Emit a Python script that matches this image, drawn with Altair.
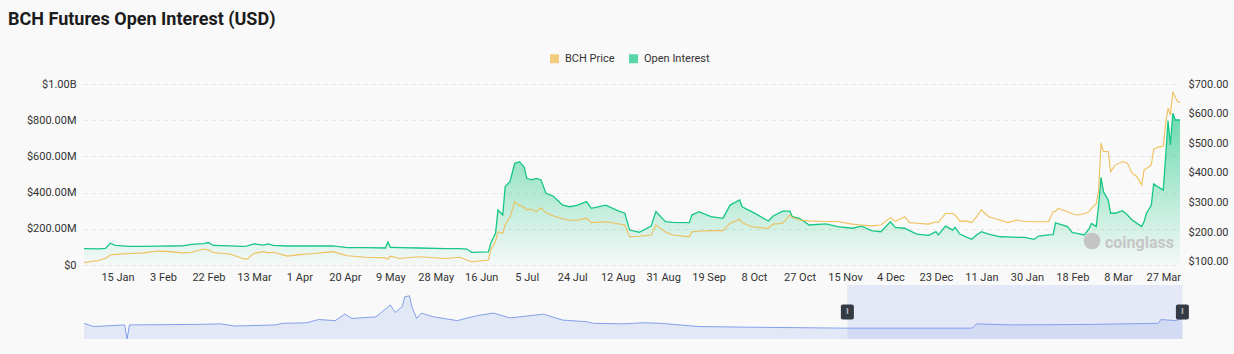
import altair as alt
import pandas as pd

# ---------------- data ----------------
dates = [
    "2023-01-01", "2023-01-07", "2023-01-10", "2023-01-12", "2023-01-14", "2023-01-20", "2023-01-26", "2023-02-01", "2023-02-06", "2023-02-11",
    "2023-02-15", "2023-02-20", "2023-02-22", "2023-02-24", "2023-03-03", "2023-03-08", "2023-03-10", "2023-03-13", "2023-03-17", "2023-03-19",
    "2023-03-21", "2023-03-27", "2023-04-01", "2023-04-06", "2023-04-15", "2023-04-21", "2023-04-29", "2023-05-07", "2023-05-08", "2023-05-09",
    "2023-05-13", "2023-05-21", "2023-06-01", "2023-06-07", "2023-06-10", "2023-06-12", "2023-06-19", "2023-06-20", "2023-06-22", "2023-06-23",
    "2023-06-25", "2023-06-26", "2023-06-28", "2023-06-30", "2023-07-02", "2023-07-04", "2023-07-05", "2023-07-07", "2023-07-09", "2023-07-11",
    "2023-07-13", "2023-07-16", "2023-07-20", "2023-07-23", "2023-07-26", "2023-07-30", "2023-08-01", "2023-08-07", "2023-08-12", "2023-08-15",
    "2023-08-17", "2023-08-21", "2023-08-26", "2023-08-28", "2023-09-01", "2023-09-04", "2023-09-11", "2023-09-12", "2023-09-15", "2023-09-20",
    "2023-09-25", "2023-09-28", "2023-10-02", "2023-10-03", "2023-10-07", "2023-10-14", "2023-10-16", "2023-10-20", "2023-10-23", "2023-10-24",
    "2023-10-27", "2023-10-31", "2023-11-07", "2023-11-12", "2023-11-18", "2023-11-22", "2023-11-26", "2023-11-30", "2023-12-04", "2023-12-06",
    "2023-12-10", "2023-12-12", "2023-12-15", "2023-12-20", "2023-12-23", "2023-12-24", "2023-12-27", "2023-12-30", "2023-12-31", "2024-01-02",
    "2024-01-05", "2024-01-07", "2024-01-09", "2024-01-11", "2024-01-14", "2024-01-19", "2024-01-22", "2024-01-26", "2024-01-29", "2024-02-02",
    "2024-02-04", "2024-02-08", "2024-02-10", "2024-02-11", "2024-02-12", "2024-02-16", "2024-02-18", "2024-02-20", "2024-02-23", "2024-02-25",
    "2024-02-26", "2024-02-28", "2024-02-29", "2024-03-01", "2024-03-02", "2024-03-04", "2024-03-05", "2024-03-07", "2024-03-10", "2024-03-12",
    "2024-03-14", "2024-03-16", "2024-03-18", "2024-03-19", "2024-03-20", "2024-03-22", "2024-03-23", "2024-03-25", "2024-03-27", "2024-03-28",
    "2024-03-29", "2024-03-30", "2024-03-31", "2024-04-01", "2024-04-02", "2024-04-03",
]

# Open interest, millions of USD
oi_musd = [
    90, 89, 92, 120, 108, 103, 103, 104, 105, 106,
    114, 118, 124, 108, 106, 103, 104, 117, 110, 117,
    108, 105, 106, 105, 106, 96, 96, 94, 127, 98,
    96, 94, 91, 90, 88, 70, 72, 120, 177, 304,
    276, 433, 460, 562, 571, 540, 479, 470, 478, 470,
    396, 381, 331, 322, 330, 350, 313, 331, 300, 286,
    193, 181, 215, 295, 239, 236, 234, 276, 295, 267,
    258, 331, 359, 322, 295, 243, 271, 298, 298, 267,
    258, 221, 227, 212, 203, 215, 190, 184, 239, 208,
    203, 190, 171, 164, 184, 166, 215, 193, 208, 171,
    153, 142, 166, 184, 170, 156, 155, 153, 153, 142,
    160, 166, 168, 234, 228, 212, 179, 175, 166, 200,
    230, 212, 331, 484, 405, 359, 286, 286, 300, 276,
    249, 230, 212, 240, 286, 330, 448, 430, 414, 598,
    797, 663, 838, 801, 801, 801,
]

# BCH price, USD
price_usd = [
    97, 104, 112, 123, 125, 128, 130, 136, 134, 130,
    132, 143, 140, 131, 126, 112, 108, 128, 134, 130,
    132, 119, 124, 127, 134, 120, 115, 113, 108, 119,
    111, 117, 111, 115, 106, 100, 106, 140, 170, 201,
    196, 224, 250, 303, 290, 283, 275, 278, 269, 282,
    265, 255, 245, 240, 240, 247, 232, 235, 228, 224,
    184, 186, 190, 224, 200, 190, 184, 201, 203, 205,
    205, 230, 243, 232, 218, 213, 227, 230, 258, 250,
    241, 238, 236, 236, 227, 224, 221, 224, 249, 236,
    252, 232, 230, 227, 235, 232, 263, 263, 258, 237,
    237, 232, 252, 275, 252, 240, 232, 241, 236, 235,
    235, 235, 269, 270, 280, 269, 262, 258, 262, 269,
    280, 295, 342, 500, 472, 472, 404, 427, 438, 433,
    399, 387, 359, 410, 415, 427, 480, 487, 490, 567,
    618, 595, 674, 655, 640, 638,
]

# navigator (overview strip) series, relative units 0-100
nav_dates = [
    "2023-01-01", "2023-01-05", "2023-01-18", "2023-01-19", "2023-01-20", "2023-02-17", "2023-02-27", "2023-03-05", "2023-03-22", "2023-03-25",
    "2023-04-04", "2023-04-09", "2023-04-16", "2023-04-20", "2023-04-23", "2023-05-03", "2023-05-09", "2023-05-11", "2023-05-14", "2023-05-15",
    "2023-05-17", "2023-05-18", "2023-05-20", "2023-05-22", "2023-05-27", "2023-06-06", "2023-06-14", "2023-06-21", "2023-06-28", "2023-07-12",
    "2023-07-20", "2023-07-30", "2023-08-02", "2023-08-14", "2023-08-23", "2023-08-30", "2023-09-15", "2023-10-02", "2023-11-16", "2024-01-07",
    "2024-01-09", "2024-01-24", "2024-02-26", "2024-03-25", "2024-03-26", "2024-04-01", "2024-04-04",
]
nav_values = [
    29, 23, 26, 0, 26, 27, 28, 24, 26, 29,
    30, 36, 34, 46, 38, 41, 63, 49, 60, 78,
    80, 60, 38, 48, 41, 34, 43, 48, 39, 46,
    35, 32, 29, 28, 30, 29, 23, 22, 20, 20,
    28, 26, 27, 29, 36, 34, 38,
]
nav_selection = ["2023-11-16", "2024-04-04"]

x_tick_dates = [
    "2023-01-15", "2023-02-03", "2023-02-22", "2023-03-13", "2023-04-01", "2023-04-20", "2023-05-09", "2023-05-28",
    "2023-06-16", "2023-07-05", "2023-07-24", "2023-08-12", "2023-08-31", "2023-09-19", "2023-10-08", "2023-10-27",
    "2023-11-15", "2023-12-04", "2023-12-23", "2024-01-11", "2024-01-30", "2024-02-18", "2024-03-08", "2024-03-27",
]
x_domain = ["2023-01-01", "2024-04-03"]
oi_ticks = [0, 200, 400, 600, 800, 1000]
price_ticks = [100, 200, 300, 400, 500, 600, 700]

series_names = ["BCH Price", "Open Interest"]
series_colors = ["#f0b94a", "#16c784"]
watermark_text = ["coinglass"]
title_text = "BCH Futures Open Interest (USD)"

# ---------------- helpers ----------------
FONT = "Roboto"
LABEL_COLOR = "#333333"
HANDLE_PATH = (
    "M-0.45,-0.75 L0.45,-0.75 Q0.65,-0.75 0.65,-0.55 L0.65,0.55 Q0.65,0.75 0.45,0.75 "
    "L-0.45,0.75 Q-0.65,0.75 -0.65,0.55 L-0.65,-0.55 Q-0.65,-0.75 -0.45,-0.75 Z"
)


def dt(s):
    y, m, d = (int(p) for p in s.split("-"))
    return alt.DateTime(year=y, month=m, date=d, utc=True)


main_df = pd.DataFrame({"date": dates, "oi": oi_musd, "price": price_usd})
nav_df = pd.DataFrame({"date": nav_dates, "v": nav_values})
sel_df = pd.DataFrame({"start": [nav_selection[0]], "end": [nav_selection[1]], "lo": [0], "hi": [100]})
handle_df = pd.DataFrame({"date": nav_selection, "v": [50, 50], "t": ["\u2016", "\u2016"]})
legend_df = pd.DataFrame({"series": pd.Series([], dtype="object")})
wm_df = pd.DataFrame({"t": watermark_text})

x_scale = alt.Scale(type="utc", domain=[dt(d) for d in x_domain])
x_axis = alt.Axis(
    values=[dt(d) for d in x_tick_dates],
    labelExpr="utcFormat(datum.value, '%-d %b')",
    labelFont=FONT, labelFontSize=11, labelColor=LABEL_COLOR,
    labelPadding=6, labelOverlap=False, labelFlush=False,
    domain=False, ticks=False, grid=False, title=None,
)


def X(field="date"):
    return alt.X(f"{field}:T", scale=x_scale, axis=x_axis, title=None)


oi_y = alt.Y(
    "oi:Q",
    scale=alt.Scale(domain=[0, 1000]),
    axis=alt.Axis(
        values=oi_ticks,
        labelExpr="datum.value == 0 ? '$0' : (datum.value >= 1000 ? '$' + format(datum.value / 1000, '.2f') + 'B' : '$' + format(datum.value, '.2f') + 'M')",
        labelFont=FONT, labelFontSize=11, labelColor=LABEL_COLOR, labelPadding=8,
        grid=True, gridColor="#e4e4e4", gridDash=[4, 4], gridWidth=1,
        domain=False, ticks=False, title=None,
    ),
    title=None,
)
price_y = alt.Y(
    "price:Q",
    scale=alt.Scale(domain=[89, 700]),
    axis=alt.Axis(
        orient="right", values=price_ticks, format="$.2f",
        labelFont=FONT, labelFontSize=11, labelColor=LABEL_COLOR, labelPadding=8,
        grid=False, domain=False, ticks=False, title=None,
    ),
    title=None,
)
NAV_Y = alt.Scale(domain=[137, 472.2])

base = alt.Chart(main_df)
oi_area = base.mark_area(
    color=alt.Gradient(
        gradient="linear",
        stops=[
            alt.GradientStop(color="rgba(22,199,132,0.62)", offset=0),
            alt.GradientStop(color="rgba(22,199,132,0.02)", offset=1),
        ],
        x1=1, x2=1, y1=0, y2=1,
    )
).encode(x=X(), y=oi_y)
oi_line = base.mark_line(color=series_colors[1], strokeWidth=1.3).encode(x=X(), y=oi_y)
oi_group = alt.layer(oi_area, oi_line)

price_line = base.mark_line(color=series_colors[0], strokeWidth=1.1, opacity=0.9).encode(x=X(), y=price_y)

nav_area = alt.Chart(nav_df).mark_area(color="#e3e8f6").encode(
    x=X(), y=alt.Y("v:Q", scale=NAV_Y, axis=None), y2=alt.datum(0)
)
nav_sel = alt.Chart(sel_df).mark_rect(color="#8fa6f0", opacity=0.2).encode(
    x=X("start"), x2="end:T", y=alt.Y("lo:Q", scale=NAV_Y, axis=None), y2="hi:Q"
)
nav_line = alt.Chart(nav_df).mark_line(color="#84a0ea", strokeWidth=1).encode(
    x=X(), y=alt.Y("v:Q", scale=NAV_Y, axis=None)
)
handles = alt.Chart(handle_df).mark_point(
    shape=HANDLE_PATH, size=400, filled=True, color="#353b45", opacity=1
).encode(x=X(), y=alt.Y("v:Q", scale=NAV_Y, axis=None))
handle_marks = alt.Chart(handle_df).mark_text(color="#ffffff", fontSize=8, font=FONT).encode(
    x=X(), y=alt.Y("v:Q", scale=NAV_Y, axis=None), text="t:N"
)
nav_group = alt.layer(nav_area, nav_sel, nav_line, handles, handle_marks)

legend_layer = alt.Chart(legend_df).mark_square(filled=True).encode(
    color=alt.Color(
        "series:N",
        scale=alt.Scale(domain=series_names, range=series_colors),
        legend=alt.Legend(
            orient="none", legendX=465, legendY=-31, direction="horizontal", title=None,
            symbolType="square", symbolSize=81, symbolStrokeWidth=0,
            labelFont=FONT, labelFontSize=11, labelColor=LABEL_COLOR,
            columnPadding=13, labelOffset=5,
        ),
    )
)

wm_logo = alt.Chart(wm_df).mark_point(shape="circle", filled=True, size=280, color="#c4c4c4", opacity=1).encode(
    x=alt.value(1008), y=alt.value(157)
)
wm_text = alt.Chart(wm_df).mark_text(
    font=FONT, fontSize=16, fontWeight="bold", color="#c6c6c6", align="left", baseline="middle"
).encode(x=alt.value(1021), y=alt.value(159), text="t:N")

chart = (
    alt.layer(oi_group, price_line, nav_group, wm_logo, wm_text, legend_layer)
    .resolve_scale(y="independent")
    .properties(
        width=1096,
        height=181,
        autosize=alt.AutoSizeParams(type="none"),
        padding={"left": 84, "top": 84, "right": 54, "bottom": 89},
        background="#f9f9f9",
        title=alt.Title(
            title_text, anchor="start", frame="group", font=FONT, fontSize=18,
            fontWeight="bold", color="#1c1c1c", dx=-76, offset=24,
        ),
    )
    .configure_view(stroke=None)
)

chart.save("out.html", embed_options={"renderer": "svg", "actions": False})
